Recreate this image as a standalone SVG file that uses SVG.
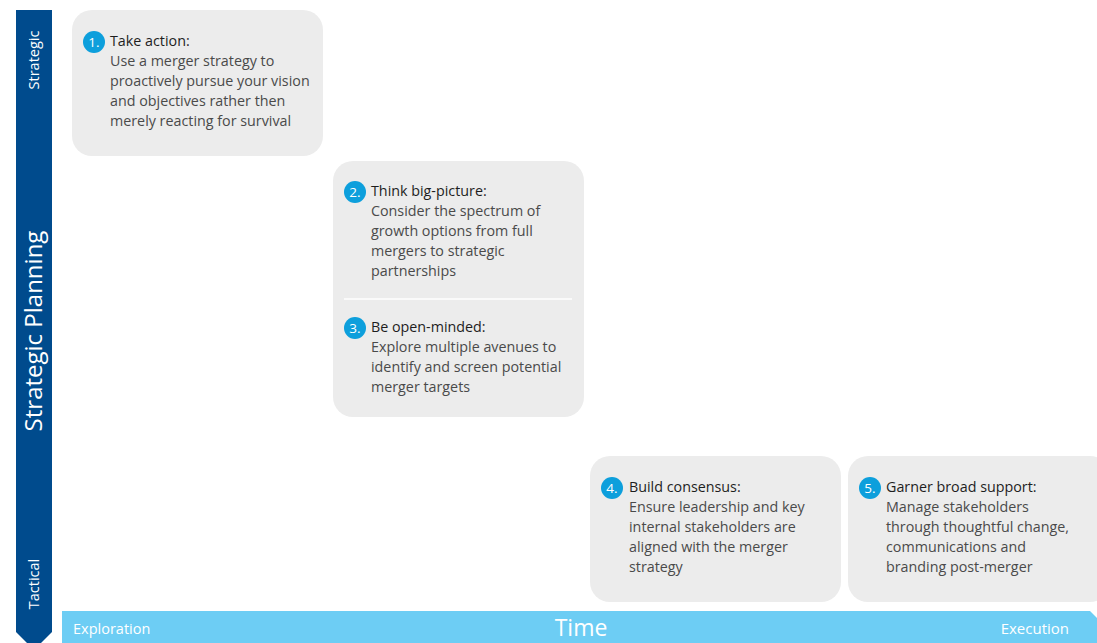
<svg xmlns="http://www.w3.org/2000/svg" width="1097" height="643" viewBox="0 0 1097 643">
  <style>
    .card { fill: #ececec; }
    .badge { fill: #0d9fdc; }
    .num { font-family: "Open Sans", "Liberation Sans", sans-serif; font-size: 13.5px; fill: #ffffff; text-anchor: middle; }
    .title { font-family: "Open Sans", "Liberation Sans", sans-serif; font-size: 14.3px; fill: #1e1e1e; }
    .body { font-family: "Open Sans", "Liberation Sans", sans-serif; font-size: 14.3px; fill: #4a4a4a; }
    .axis { font-family: "Open Sans", "Liberation Sans", sans-serif; fill: #ffffff; }
  </style>

  <!-- vertical axis: strategic to tactical -->
  <g id="axis-vertical">
    <path d="M16 10 H52 V632 L34 650 L16 632 Z" fill="#004b8d"/>
    <text class="axis" font-size="14.5" text-anchor="middle" transform="translate(39 60) rotate(-90)">Strategic</text>
    <text class="axis" font-size="24" text-anchor="middle" transform="translate(42 331) rotate(-90)">Strategic Planning</text>
    <text class="axis" font-size="14.5" text-anchor="middle" transform="translate(39 584) rotate(-90)">Tactical</text>
  </g>

  <!-- horizontal axis: exploration to execution -->
  <g id="axis-horizontal">
    <path d="M62 611 H1090 L1100 621 V643 H62 Z" fill="#6dcdf4"/>
    <text class="axis" font-size="14.5" x="73" y="634">Exploration</text>
    <text class="axis" font-size="23" x="581" y="636" text-anchor="middle">Time</text>
    <text class="axis" font-size="15" x="1069" y="634" text-anchor="end">Execution</text>
  </g>

  <g id="connectors"/>

  <g id="node-1">
    <rect class="card" x="72" y="10" width="251" height="146" rx="20"/>
    <circle class="badge" cx="94" cy="42" r="11"/>
    <text class="num" x="94" y="47">1.</text>
    <text class="title" x="110" y="46">Take action:</text>
    <text class="body" x="110" y="66">Use a merger strategy to</text>
    <text class="body" x="110" y="86">proactively pursue your vision</text>
    <text class="body" x="110" y="106">and objectives rather then</text>
    <text class="body" x="110" y="126">merely reacting for survival</text>
  </g>

  <g id="node-2-3">
    <rect class="card" x="333" y="161" width="251" height="256" rx="20"/>
    <line x1="344" y1="299" x2="572" y2="299" stroke="#ffffff" stroke-width="1.5"/>
  </g>

  <g id="node-2">
    <circle class="badge" cx="355" cy="192" r="11"/>
    <text class="num" x="355" y="197">2.</text>
    <text class="title" x="371" y="196">Think big-picture:</text>
    <text class="body" x="371" y="216">Consider the spectrum of</text>
    <text class="body" x="371" y="236">growth options from full</text>
    <text class="body" x="371" y="256">mergers to strategic</text>
    <text class="body" x="371" y="276">partnerships</text>
  </g>

  <g id="node-3">
    <circle class="badge" cx="355" cy="328" r="11"/>
    <text class="num" x="355" y="333">3.</text>
    <text class="title" x="371" y="332">Be open-minded:</text>
    <text class="body" x="371" y="352">Explore multiple avenues to</text>
    <text class="body" x="371" y="372">identify and screen potential</text>
    <text class="body" x="371" y="392">merger targets</text>
  </g>

  <g id="node-4">
    <rect class="card" x="590" y="456" width="251" height="146" rx="20"/>
    <circle class="badge" cx="612" cy="488" r="11"/>
    <text class="num" x="612" y="493">4.</text>
    <text class="title" x="629" y="492">Build consensus:</text>
    <text class="body" x="629" y="512">Ensure leadership and key</text>
    <text class="body" x="629" y="532">internal stakeholders are</text>
    <text class="body" x="629" y="552">aligned with the merger</text>
    <text class="body" x="629" y="572">strategy</text>
  </g>

  <g id="node-5">
    <rect class="card" x="848" y="456" width="262" height="146" rx="20"/>
    <circle class="badge" cx="870" cy="488" r="11"/>
    <text class="num" x="870" y="493">5.</text>
    <text class="title" x="886" y="492">Garner broad support:</text>
    <text class="body" x="886" y="512">Manage stakeholders</text>
    <text class="body" x="886" y="532">through thoughtful change,</text>
    <text class="body" x="886" y="552">communications and</text>
    <text class="body" x="886" y="572">branding post-merger</text>
  </g>
</svg>
